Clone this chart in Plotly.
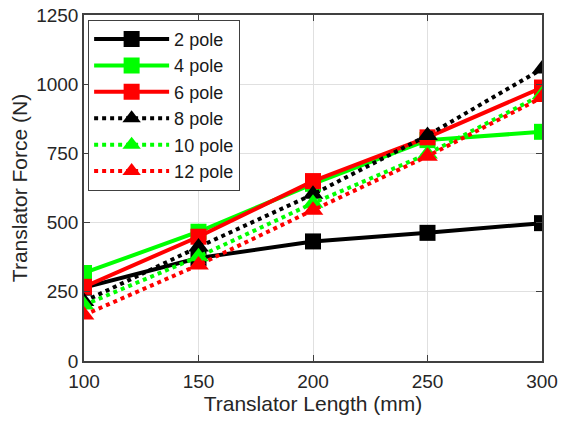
import plotly.graph_objects as go

# Translator length (mm)
lengths = [100, 150, 200, 250, 300]

# Translator force (N) for each pole count
force_2pole = [265, 372, 432, 463, 498]
force_4pole = [318, 467, 640, 798, 828]
force_6pole = [268, 449, 650, 808, 988]
force_8pole = [215, 412, 602, 815, 1055]
force_10pole = [202, 377, 570, 748, 962]
force_12pole = [166, 347, 545, 740, 952]

series = [
    ("2 pole", force_2pole, "black", "solid", "square", 16),
    ("4 pole", force_4pole, "#00ff00", "solid", "square", 16),
    ("6 pole", force_6pole, "#ff0000", "solid", "square", 16),
    ("8 pole", force_8pole, "black", "dot", "triangle-up", 18),
    ("10 pole", force_10pole, "#00ff00", "dot", "triangle-up", 18),
    ("12 pole", force_12pole, "#ff0000", "dot", "triangle-up", 18),
]

fig = go.Figure()
for name, vals, color, dash, symbol, msize in series:
    fig.add_trace(go.Scatter(
        x=lengths, y=vals, name=name, mode="lines+markers",
        line=dict(color=color, width=4, dash=dash),
        marker=dict(symbol=symbol, size=msize, color=color,
                    line=dict(color=color, width=0)),
    ))

axis_common = dict(
    showline=True, linecolor="#404040", linewidth=1.5, mirror="ticks",
    ticks="inside", ticklen=6, tickcolor="#404040",
    showgrid=True, gridcolor="#e0e0e0", gridwidth=1,
    zeroline=False, automargin=False,
    tickfont=dict(family="Liberation Sans, Arial, sans-serif", size=19, color="#262626"),
)

fig.update_layout(
    width=562, height=422,
    margin=dict(l=84, r=20, t=15, b=61),
    plot_bgcolor="white", paper_bgcolor="white",
    font=dict(family="Liberation Sans, Arial, sans-serif", color="#262626"),
    xaxis=dict(range=[100, 300], tickvals=[100, 150, 200, 250, 300],
               ticklabelstandoff=2,
               title=dict(text="Translator Length (mm)", font=dict(size=21), standoff=0),
               **axis_common),
    yaxis=dict(range=[0, 1250], tickvals=[0, 250, 500, 750, 1000, 1250],
               title=dict(text="Translator Force (N)", font=dict(size=21), standoff=3),
               **axis_common),
    legend=dict(
        x=0.009, y=0.986, xanchor="left", yanchor="top",
        bgcolor="white", bordercolor="#404040", borderwidth=1,
        font=dict(size=18, color="#1a1a1a"),
        itemwidth=75, tracegroupgap=0,
    ),
    showlegend=True,
)

fig.write_html("out.html")
